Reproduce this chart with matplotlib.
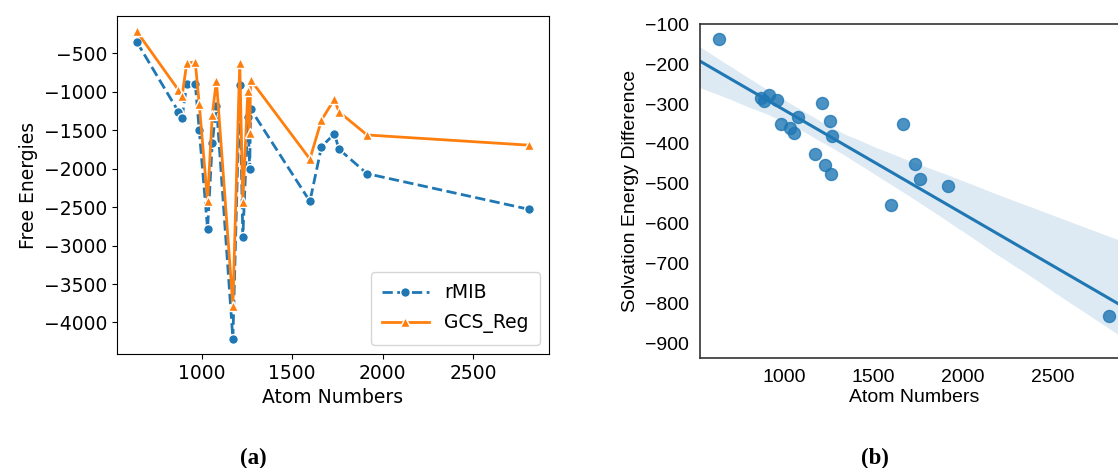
import matplotlib
matplotlib.use("Agg")
import matplotlib.pyplot as plt
import seaborn as sns
import numpy as np

# data
atoms = [640, 871, 891, 917, 964, 986, 1032, 1058, 1081, 1172, 1210,
         1227, 1255, 1265, 1270, 1598, 1662, 1734, 1758, 1914, 2812]
rmib = [-350, -1259, -1337, -895, -895, -1500, -2780, -1670, -1180, -4210, -915,
        -2885, -1330, -2010, -1225, -2425, -1715, -1545, -1745, -2065, -2530]
gcs_reg = [-215, -978, -1056, -625, -615, -1165, -2425, -1300, -855, -3780, -620,
           -2430, -990, -1540, -845, -1875, -1368, -1095, -1260, -1562, -1695]
solv_diff = [-136, -285, -293, -277, -289, -349, -360, -373, -333, -426, -297,
             -452, -342, -475, -381, -553, -350, -451, -487, -506, -832]

blue = "#1f77b4"
orange = "#ff7f0e"

fig = plt.figure(figsize=(11.18, 4.68), dpi=100)

# (a) free energies
ax1 = fig.add_axes([0.1047, 0.2436, 0.3864, 0.7222])
ax1.plot(atoms, rmib, "--", color=blue, lw=2, marker="o", ms=7,
         mec="white", mew=1, label="rMIB")
ax1.plot(atoms, gcs_reg, "-", color=orange, lw=2, marker="^", ms=7,
         mec="white", mew=1, label="GCS_Reg")
ax1.set_xticks([1000, 1500, 2000, 2500])
ax1.set_yticks([-500, -1000, -1500, -2000, -2500, -3000, -3500, -4000])
ax1.tick_params(labelsize=13.5)
ax1.set_xlabel("Atom Numbers", fontsize=13.5)
ax1.set_ylabel("Free Energies", fontsize=13.5)
ax1.legend(loc="lower right", fontsize=13.5, handlelength=2.5,
           borderpad=0.6, labelspacing=0.6)

# (b) solvation energy difference
arial = ["Liberation Sans", "DejaVu Sans"]
ax2 = fig.add_axes([0.6261, 0.235, 0.3828, 0.7137])
ax2.set_xlim(532, 2919)
ax2.set_ylim(-937, -99)
sns.regplot(x=np.array(atoms), y=np.array(solv_diff), ax=ax2, truncate=False,
            seed=0, color=blue, scatter_kws={"s": 75, "alpha": 0.8},
            line_kws={"lw": 2.2})
ax2.set_xlim(532, 2919)
ax2.set_ylim(-937, -99)
ax2.set_xticks([1000, 1500, 2000, 2500])
ax2.set_yticks(list(range(-100, -1000, -100)))
ax2.tick_params(length=0, labelsize=14, pad=8)
for lab in ax2.get_xticklabels() + ax2.get_yticklabels():
    lab.set_family(arial)
for sp in ax2.spines.values():
    sp.set_color("0.2")
    sp.set_linewidth(1.2)
ax2.set_xlabel("Atom Numbers", fontsize=14, family=arial, labelpad=2)
ax2.set_ylabel("Solvation Energy Difference", fontsize=14, family=arial)

# panel letters
fig.text(253 / 1118, 1 - 458 / 468, "(a)", ha="center", va="center",
         fontsize=16.5, fontweight="bold", family="Liberation Serif")
fig.text(875 / 1118, 1 - 458 / 468, "(b)", ha="center", va="center",
         fontsize=16.5, fontweight="bold", family="Liberation Serif")

fig.savefig("out.png", dpi=100)
